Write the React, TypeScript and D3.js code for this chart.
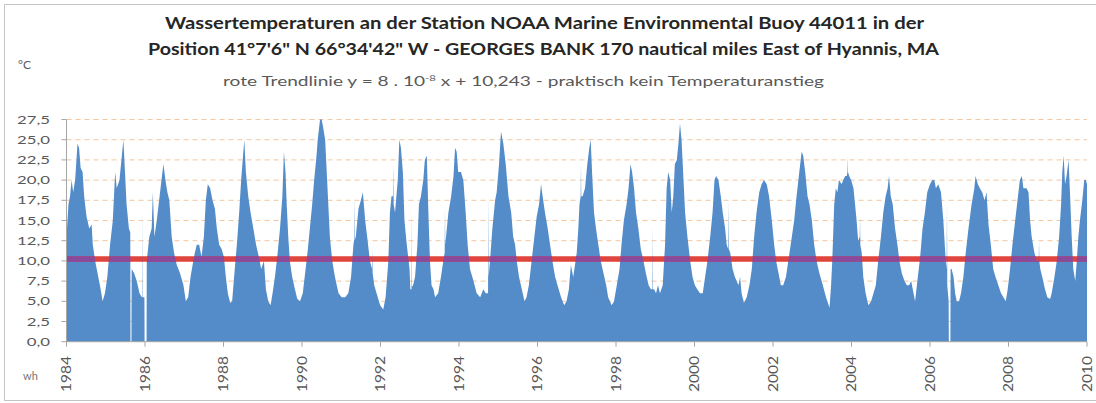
import React from "react";
import * as d3 from "d3";

// ---- data: [decimal year, water temperature °C] ----
const temps1984to1990: [number, number][] = [
  [1984.00,13],[1984.05,17],[1984.09,18],[1984.13,20],[1984.17,18.5],[1984.22,20],[1984.28,24.5],[1984.32,24],[1984.36,21.5],[1984.41,21],[1984.45,18],[1984.51,15.5],[1984.58,14],[1984.64,14.5],[1984.67,12],[1984.73,10],[1984.81,8],[1984.87,6.5],[1984.92,5],[1984.98,6],
  [1985.04,8],[1985.11,12],[1985.18,15],[1985.24,21],[1985.28,19],[1985.35,20],[1985.41,23],[1985.45,25],[1985.49,21],[1985.53,17],[1985.59,14],[1985.625,13.5],[1985.63,0],[1985.655,0],[1985.66,9],[1985.72,8.5],[1985.79,7.5],[1985.86,6],[1985.92,5.5],[1985.935,5.5],[1985.94,16.5],[1985.945,5.5],[1985.985,5.5],[1985.99,0],[1986.04,0],[1986.045,10],
  [1986.11,13],[1986.17,14],[1986.20,18.5],[1986.24,13],[1986.30,15],[1986.36,17.5],[1986.42,20],[1986.47,22],[1986.52,20],[1986.57,18.5],[1986.62,17.5],[1986.68,13],[1986.74,11],[1986.81,9.5],[1986.89,8.5],[1986.98,7],
  [1987.04,5],[1987.10,5.5],[1987.16,8],[1987.23,10],[1987.27,11],[1987.32,12],[1987.38,12],[1987.44,10.5],[1987.50,13],[1987.55,17.5],[1987.60,19.5],[1987.66,19],[1987.72,17.5],[1987.78,16.5],[1987.83,14],[1987.89,12],[1987.95,11.5],
  [1988.01,10.5],[1988.06,8],[1988.11,6],[1988.17,4.8],[1988.22,5],[1988.27,8],[1988.34,12],[1988.40,16],[1988.45,20],[1988.49,22.5],[1988.53,25],[1988.57,21],[1988.63,18],[1988.69,16],[1988.76,14],[1988.83,12],[1988.90,10.5],[1988.96,9],
  [1989.03,10],[1989.08,6.5],[1989.14,5],[1989.20,4.5],[1989.25,6],[1989.31,8],[1989.37,10.5],[1989.44,14],[1989.50,18],[1989.54,23.5],[1989.58,21],[1989.61,17],[1989.65,13],[1989.69,10],[1989.75,8],[1989.82,6.5],[1989.88,5.3],[1989.95,5],
  [1990.02,6],[1990.08,8.5],[1990.14,11],[1990.20,14],[1990.26,17],[1990.31,20],[1990.37,23],
];

const temps1990to1997: [number, number][] = [
  [1990.40,25],[1990.46,27.5],[1990.50,27.5],[1990.54,26.5],[1990.59,25],[1990.63,21],[1990.67,17],[1990.71,13],[1990.77,10],[1990.84,8],[1990.93,6],
  [1991.01,5.5],[1991.10,5.5],[1991.18,6],[1991.25,8],[1991.31,12],[1991.325,12.5],[1991.333,18],[1991.34,12.5],[1991.37,13],[1991.44,16.5],[1991.50,17.5],[1991.55,18.5],[1991.61,15],[1991.66,13],[1991.73,10],[1991.785,9],[1991.79,11.5],[1991.80,8.5],[1991.84,7],[1991.90,6],[1991.99,4.5],
  [1992.07,4],[1992.13,5.5],[1992.20,10],[1992.24,16],[1992.28,18],[1992.32,18],[1992.327,22],[1992.335,17],[1992.37,16],[1992.44,20],[1992.48,25],[1992.52,24],[1992.57,21],[1992.61,15],[1992.67,12],[1992.74,9],[1992.76,6.5],[1992.79,6.5],[1992.794,17],[1992.80,6.8],[1992.83,7],[1992.88,8],[1992.94,12],[1992.98,17],
  [1993.03,18],[1993.09,20],[1993.13,22.5],[1993.18,23],[1993.22,16],[1993.26,10],[1993.30,7],[1993.35,6.5],[1993.39,5.5],[1993.47,6],[1993.54,8],[1993.60,10],[1993.635,11],[1993.643,16.5],[1993.65,12],[1993.69,14],[1993.73,16],[1993.80,18],[1993.86,20.5],[1993.90,24],[1993.94,23.5],[1993.98,21],
  [1994.05,21],[1994.11,20],[1994.17,16],[1994.22,12],[1994.28,9],[1994.37,7.5],[1994.45,6],[1994.54,5.5],[1994.62,6.5],[1994.68,6],[1994.74,6],[1994.747,18.3],[1994.755,8],[1994.79,10],[1994.85,14],[1994.92,17.5],[1994.96,18.5],
  [1995.02,22],[1995.07,26],[1995.13,24.5],[1995.19,22],[1995.26,18],[1995.33,16],[1995.38,13],[1995.43,12],[1995.47,10],[1995.53,8],[1995.60,6.5],[1995.67,5],[1995.72,5.5],[1995.78,7],[1995.85,10],[1995.92,13],[1995.98,15.5],
  [1996.04,17],[1996.09,19.5],[1996.13,18],[1996.19,16],[1996.26,14],[1996.32,12],[1996.38,10],[1996.45,8],[1996.51,7],[1996.60,5.5],[1996.68,4.5],[1996.74,5],[1996.80,6.5],[1996.85,9.5],[1996.91,8],[1997.00,11],
];

const temps1997to2003: [number, number][] = [
  [1997.04,14],[1997.07,17],[1997.10,18],[1997.108,22],[1997.115,18],[1997.15,18],[1997.21,19],[1997.27,22],[1997.32,24],[1997.355,25],[1997.39,21],[1997.44,16],[1997.49,14],[1997.55,12],[1997.61,10],[1997.68,8.5],[1997.75,7],[1997.80,5.5],[1997.89,4.5],[1997.95,5],
  [1998.02,7],[1998.09,9],[1998.14,12],[1998.20,15],[1998.27,17],[1998.32,19],[1998.37,22],[1998.41,21],[1998.46,19],[1998.51,16],[1998.57,14],[1998.63,11.5],[1998.70,10],[1998.76,8.5],[1998.83,7],[1998.89,6.5],[1998.928,6.5],[1998.934,14.5],[1998.94,6.5],[1998.97,6.5],
  [1999.02,6],[1999.07,7],[1999.12,6],[1999.19,7],[1999.25,12],[1999.29,19],[1999.33,21],[1999.38,20],[1999.42,16],[1999.46,18],[1999.50,22],[1999.55,22.5],[1999.59,24.5],[1999.63,27],[1999.67,25],[1999.72,20],[1999.76,16],[1999.82,13],[1999.89,10],[1999.95,8],
  [2000.01,7],[2000.07,6.5],[2000.14,6],[2000.21,6],[2000.27,8],[2000.33,10],[2000.40,13],[2000.46,16],[2000.51,20],[2000.55,20.5],[2000.61,20],[2000.67,18],[2000.72,16],[2000.78,14],[2000.82,12],[2000.855,11.5],[2000.862,17.5],[2000.87,11.5],[2000.91,11],[2000.97,9],
  [2001.03,8],[2001.12,7],[2001.16,8],[2001.20,6],[2001.26,4.8],[2001.33,5.5],[2001.40,7],[2001.46,9],[2001.52,13],[2001.58,16],[2001.65,18.5],[2001.71,19.5],[2001.77,20],[2001.84,19.5],[2001.90,18],[2001.97,15],
  [2002.03,12],[2002.08,10],[2002.14,8.5],[2002.20,7],[2002.26,7],[2002.33,8],[2002.39,10],[2002.48,13],[2002.54,15],[2002.60,18],[2002.67,21],[2002.73,23.5],[2002.77,23],[2002.82,21],[2002.88,18],[2002.93,17],[2002.99,15],
  [2003.05,12],[2003.11,10],[2003.18,8.5],[2003.27,7],[2003.35,5.5],[2003.44,4.2],
];

const temps2003to2010: [number, number][] = [
  [2003.48,7],[2003.51,10],[2003.56,17],[2003.60,19],[2003.64,18.5],[2003.68,20],[2003.75,19.5],[2003.79,20],[2003.84,20.5],[2003.88,20.5],[2003.897,21],[2003.903,23],[2003.91,21],[2003.94,20.5],[2003.99,20],
  [2004.05,19],[2004.09,17],[2004.13,15],[2004.17,12.5],[2004.21,13],[2004.217,15.5],[2004.225,12],[2004.26,11],[2004.30,8],[2004.36,6],[2004.43,4.5],[2004.50,5],[2004.56,6],[2004.62,7],[2004.68,10],[2004.75,13],[2004.81,16],[2004.87,18],[2004.92,19],[2004.956,20.5],
  [2005.00,18],[2005.05,17],[2005.11,14],[2005.17,12],[2005.22,10],[2005.28,8.5],[2005.35,7.5],[2005.41,7],[2005.47,7],[2005.52,7.5],[2005.58,6],[2005.62,5],[2005.69,8],[2005.75,10.5],[2005.81,14],[2005.87,16],[2005.93,18.5],
  [2006.00,19.5],[2006.06,20],[2006.11,20],[2006.15,19],[2006.21,19.5],[2006.28,18.5],[2006.34,15],[2006.40,10],[2006.425,9],[2006.433,17.5],[2006.44,7],[2006.475,5],[2006.48,0],[2006.52,0],[2006.525,9],[2006.55,9],[2006.60,8],[2006.64,6],[2006.68,5],[2006.74,5],[2006.79,6],[2006.85,8],[2006.91,11],[2006.98,14],
  [2007.06,17],[2007.13,19],[2007.16,20.5],[2007.22,19.5],[2007.27,19],[2007.33,18.5],[2007.39,17.5],[2007.44,18.5],[2007.49,14.5],[2007.55,12],[2007.61,9],[2007.67,8],[2007.74,7],[2007.81,6],[2007.87,5.5],[2007.93,5],[2007.98,6.5],
  [2008.04,9],[2008.10,12],[2008.17,15],[2008.23,17.5],[2008.29,20],[2008.34,20.5],[2008.38,19],[2008.42,19],[2008.46,19],[2008.51,18.5],[2008.55,15],[2008.59,13],[2008.66,11],[2008.72,10],[2008.77,10],[2008.778,12.5],[2008.785,10],[2008.81,9],[2008.86,8],[2008.93,6.5],[2008.99,5.5],
  [2009.06,5.3],[2009.10,6],[2009.17,8],[2009.23,10],[2009.29,13],[2009.34,17],[2009.37,21],[2009.406,23],[2009.44,19.5],[2009.48,20.5],[2009.53,22.5],[2009.57,18],[2009.61,13],[2009.65,9],[2009.70,7.5],[2009.74,10],[2009.78,13],[2009.82,15],[2009.88,17.5],[2009.93,20],[2009.97,20],[2010.00,19.5],
];

const yTicks = [0, 2.5, 5, 7.5, 10, 12.5, 15, 17.5, 20, 22.5, 25, 27.5];
const xTicks = [1984, 1986, 1988, 1990, 1992, 1994, 1996, 1998, 2000, 2002, 2004, 2006, 2008, 2010];
// trend: y = 8e-8 * x + 10.243, x = Excel date serial
const trendSlope = 8e-8;
const trendIntercept = 10.243;

const titleLine1 = "Wassertemperaturen an der Station NOAA Marine Environmental Buoy 44011 in der";
const titleLine2 = "Position 41°7'6\" N 66°34'42\" W - GEORGES BANK 170 nautical miles East of Hyannis, MA";

const FONT = "Lato, 'Open Sans', sans-serif";

export default function App() {
  const x = d3.scaleLinear().domain([1984, 2010]).range([66.5, 1087]);
  const y = d3.scaleLinear().domain([0, 27.5]).range([341.7, 119.5]);

  const data = [...temps1984to1990, ...temps1990to1997, ...temps1997to2003, ...temps2003to2010]
    .map(([t, v]) => ({ t, v }));

  const area = d3
    .area<{ t: number; v: number }>()
    .x((d) => x(d.t))
    .y0(y(0))
    .y1((d) => y(d.v));

  const areaPath = area([{ t: 1984, v: 0 }, ...data, { t: 2010, v: 0 }]) || "";

  const serial = (t: number) => 25569 + (t - 1970) * 365.25;
  const trend = (t: number) => trendSlope * serial(t) + trendIntercept;
  const trendLine = d3
    .line<number>()
    .x((t) => x(t))
    .y((t) => y(trend(t)))([1984, 2010]) || "";

  const fmt = (v: number) => v.toFixed(1).replace(".", ",");

  return (
    <svg
      width={1096}
      height={403}
      style={{ position: "absolute", left: 0, top: 0, background: "#fff" }}
      fontFamily={FONT}
    >
      <defs>
        <clipPath id="dataClip" clipPathUnits="userSpaceOnUse">
          <path d={areaPath} />
        </clipPath>
      </defs>
      <rect x={0} y={0} width={1096} height={403} fill="#fff" />
      <rect x={4.5} y={4.5} width={1100} height={396} fill="none" stroke="#c4c4c4" strokeWidth={1} />

      {/* titles */}
      <text x={165} y={29} fontSize={17} fontWeight="bold" fill="#262626" textLength={759} lengthAdjust="spacingAndGlyphs">
        {titleLine1}
      </text>
      <text x={148} y={55} fontSize={17} fontWeight="bold" fill="#262626" textLength={791} lengthAdjust="spacingAndGlyphs">
        {titleLine2}
      </text>
      <text x={223} y={86} fontSize={13.5} fill="#595959" textLength={601} lengthAdjust="spacingAndGlyphs">
        rote Trendlinie y = 8 . 10
        <tspan fontSize={8} dy={-5}>-8</tspan>
        <tspan dy={5}> x + 10,243  - praktisch kein Temperaturanstieg</tspan>
      </text>
      <text x={18} y={69} fontSize={12} fill="#595959">°C</text>
      <text x={23} y={380} fontSize={11} fill="#777">wh</text>

      {/* gridlines */}
      {yTicks.filter((v) => v > 0).map((v) => (
        <line key={"g" + v} x1={x(1984)} x2={x(2010)} y1={y(v)} y2={y(v)}
          stroke="#f3c7a0" strokeWidth={1} strokeDasharray="5,4" />
      ))}

      {/* data */}
      <path d={areaPath} fill="#538cc8" />

      {/* trend line, red on white */}
      <path d={trendLine} stroke="#e0453d" strokeWidth={5.5} fill="none" />
      {/* trend line where it crosses the bars: purple */}
      <g clipPath="url(#dataClip)">
        <path d={trendLine} stroke="#8a4a9c" strokeWidth={5.5} fill="none" />
      </g>

      {/* y axis */}
      <line x1={x(1984)} x2={x(1984)} y1={y(27.5)} y2={y(0)} stroke="#a6a6a6" />
      {yTicks.map((v) => (
        <g key={"y" + v}>
          <line x1={x(1984) - 5} x2={x(1984)} y1={y(v)} y2={y(v)} stroke="#a6a6a6" />
          <text
            transform={`translate(50,${y(v) + 4}) scale(1.4,1)`}
            textAnchor="end"
            fontSize={12}
            fill="#595959"
          >
            {fmt(v)}
          </text>
        </g>
      ))}

      {/* x axis */}
      <line x1={x(1984)} x2={x(2010)} y1={y(0)} y2={y(0)} stroke="#a6a6a6" />
      {xTicks.map((t) => (
        <g key={"x" + t}>
          <line x1={x(t)} x2={x(t)} y1={y(0)} y2={y(0) + 5} stroke="#a6a6a6" />
          <text
            transform={`translate(${x(t) + 4.5},392) rotate(-90)`}
            fontSize={13}
            fill="#595959"
            textLength={36}
            lengthAdjust="spacingAndGlyphs"
          >
            {t}
          </text>
        </g>
      ))}
    </svg>
  );
}
